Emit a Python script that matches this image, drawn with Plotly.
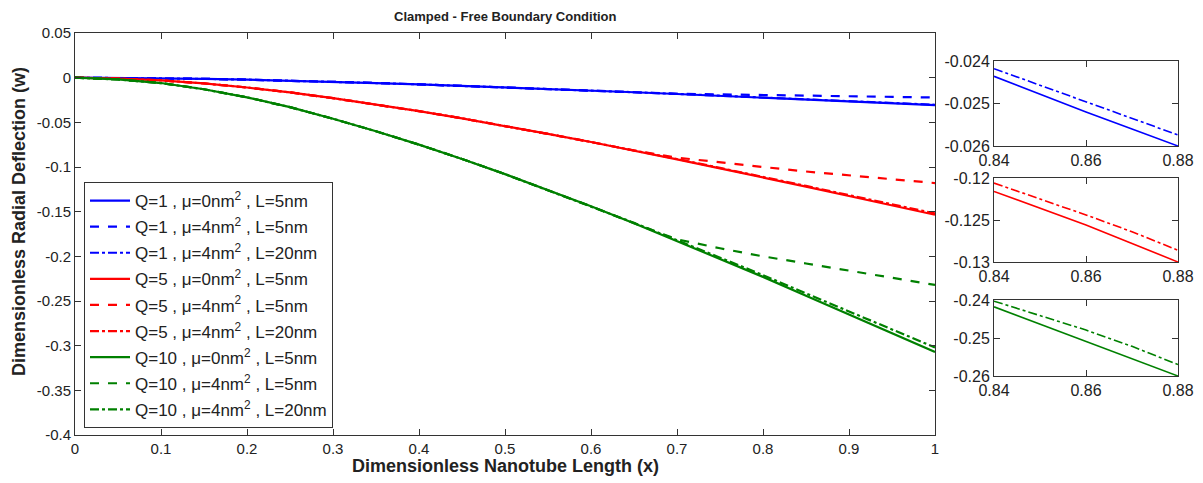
import plotly.graph_objects as go

# ---------------- data ----------------
x_main = [0, 0.05, 0.1, 0.15, 0.2, 0.25, 0.3, 0.35, 0.4, 0.45, 0.5,
          0.55, 0.6, 0.65, 0.7, 0.75, 0.8, 0.85, 0.9, 0.95, 1.0]

q1_mu0_L5 = [0, -0.0002, -0.0006, -0.0013, -0.0022, -0.0033, -0.0046, -0.0060, -0.0075, -0.0091, -0.0108,
             -0.0126, -0.0144, -0.0163, -0.0183, -0.0203, -0.0223, -0.0244, -0.0265, -0.0286, -0.0307]
q1_mu4_L5 = [0, -0.0002, -0.0006, -0.0013, -0.0022, -0.0033, -0.0046, -0.0060, -0.0075, -0.0091, -0.0108,
             -0.0126, -0.0144, -0.0163, -0.0180, -0.0187, -0.0194, -0.0201, -0.0208, -0.0215, -0.0222]
q1_mu4_L20 = [0, -0.0002, -0.0006, -0.0013, -0.0022, -0.0033, -0.0046, -0.0060, -0.0075, -0.0091, -0.0108,
              -0.0126, -0.0144, -0.0163, -0.0182, -0.0202, -0.0222, -0.0242, -0.0263, -0.0283, -0.0303]

q5_mu0_L5 = [0, -0.0010, -0.0030, -0.0065, -0.0110, -0.0165, -0.0230, -0.0300, -0.0375, -0.0455, -0.0540,
             -0.0630, -0.0720, -0.0815, -0.0915, -0.1015, -0.1115, -0.1220, -0.1325, -0.1430, -0.1535]
q5_mu4_L5 = [0, -0.0010, -0.0030, -0.0065, -0.0110, -0.0165, -0.0230, -0.0300, -0.0375, -0.0455, -0.0540,
             -0.0630, -0.0720, -0.0815, -0.0895, -0.0950, -0.1000, -0.1050, -0.1095, -0.1140, -0.1180]
q5_mu4_L20 = [0, -0.0010, -0.0030, -0.0065, -0.0110, -0.0165, -0.0230, -0.0300, -0.0375, -0.0455, -0.0540,
              -0.0630, -0.0720, -0.0813, -0.0910, -0.1010, -0.1107, -0.1212, -0.1315, -0.1418, -0.1520]

q10_mu0_L5 = [0, -0.002, -0.006, -0.013, -0.022, -0.033, -0.046, -0.060, -0.075, -0.091, -0.108,
              -0.126, -0.144, -0.163, -0.183, -0.203, -0.223, -0.244, -0.265, -0.286, -0.307]
q10_mu4_L5 = [0, -0.002, -0.006, -0.013, -0.022, -0.033, -0.046, -0.060, -0.075, -0.091, -0.108,
              -0.126, -0.144, -0.163, -0.181, -0.191, -0.200, -0.208, -0.216, -0.224, -0.232]
q10_mu4_L20 = [0, -0.002, -0.006, -0.013, -0.022, -0.033, -0.046, -0.060, -0.075, -0.091, -0.108,
               -0.126, -0.144, -0.1625, -0.182, -0.2015, -0.221, -0.2415, -0.2615, -0.282, -0.302]

# zoomed insets (x = 0.84 ... 0.88)
x_inset = [0.84, 0.85, 0.86, 0.87, 0.88]
ins_q1_mu0 = [-0.02436, -0.02478, -0.02520, -0.02560, -0.02600]
ins_q1_L20 = [-0.02418, -0.02457, -0.02496, -0.02535, -0.02574]
ins_q5_mu0 = [-0.1216, -0.1236, -0.1256, -0.1278, -0.1300]
ins_q5_L20 = [-0.1206, -0.1225, -0.1244, -0.1264, -0.1286]
ins_q10_mu0 = [-0.2418, -0.2464, -0.2510, -0.2554, -0.2600]
ins_q10_L20 = [-0.2403, -0.2441, -0.2479, -0.2522, -0.2570]

legend_names = [
    "Q=1 , μ=0nm<sup>2</sup> , L=5nm",
    "Q=1 , μ=4nm<sup>2</sup> , L=5nm",
    "Q=1 , μ=4nm<sup>2</sup> , L=20nm",
    "Q=5 , μ=0nm<sup>2</sup> , L=5nm",
    "Q=5 , μ=4nm<sup>2</sup> , L=5nm",
    "Q=5 , μ=4nm<sup>2</sup> , L=20nm",
    "Q=10 , μ=0nm<sup>2</sup> , L=5nm",
    "Q=10 , μ=4nm<sup>2</sup> , L=5nm",
    "Q=10 , μ=4nm<sup>2</sup> , L=20nm",
]

x_tickvals = [0, 0.1, 0.2, 0.3, 0.4, 0.5, 0.6, 0.7, 0.8, 0.9, 1.0]
x_ticktext = ["0", "0.1", "0.2", "0.3", "0.4", "0.5", "0.6", "0.7", "0.8", "0.9", "1"]
y_tickvals = [0.05, 0, -0.05, -0.1, -0.15, -0.2, -0.25, -0.3, -0.35, -0.4]
y_ticktext = ["0.05", "0", "-0.05", "-0.1", "-0.15", "-0.2", "-0.25", "-0.3", "-0.35", "-0.4"]

inset_x_ticks = [0.84, 0.86, 0.88]
inset_x_text = ["0.84", "0.86", "0.88"]
inset1_y_ticks = [-0.024, -0.025, -0.026]
inset1_y_text = ["-0.024", "-0.025", "-0.026"]
inset2_y_ticks = [-0.12, -0.125, -0.13]
inset2_y_text = ["-0.12", "-0.125", "-0.13"]
inset3_y_ticks = [-0.24, -0.25, -0.26]
inset3_y_text = ["-0.24", "-0.25", "-0.26"]

# ---------------- styling ----------------
BLUE = "rgb(0,0,255)"
RED = "rgb(255,0,0)"
GREEN = "rgb(0,128,0)"
FONT = "Liberation Sans, Arial, sans-serif"
AX = "#333333"
TXT = "#222222"

OFF = 8                      # default page (body) margin of the html page
W, H = 1203 - OFF, 483 - OFF

fig = go.Figure()

main_series = [
    (q1_mu0_L5, BLUE, "solid"), (q1_mu4_L5, BLUE, "dash"), (q1_mu4_L20, BLUE, "dashdot"),
    (q5_mu0_L5, RED, "solid"), (q5_mu4_L5, RED, "dash"), (q5_mu4_L20, RED, "dashdot"),
    (q10_mu0_L5, GREEN, "solid"), (q10_mu4_L5, GREEN, "dash"), (q10_mu4_L20, GREEN, "dashdot"),
]
for i, (ys, col, dash) in enumerate(main_series):
    fig.add_trace(go.Scatter(
        x=x_main, y=ys, mode="lines", name=legend_names[i],
        legendgroup="g%d" % i,
        line=dict(color=col, width=2.2, dash=dash),
        xaxis="x", yaxis="y"))

inset_series = [
    (ins_q1_mu0, BLUE, "solid", "2"), (ins_q1_L20, BLUE, "dashdot", "2"),
    (ins_q5_mu0, RED, "solid", "3"), (ins_q5_L20, RED, "dashdot", "3"),
    (ins_q10_mu0, GREEN, "solid", "4"), (ins_q10_L20, GREEN, "dashdot", "4"),
]
for ys, col, dash, ax in inset_series:
    fig.add_trace(go.Scatter(
        x=x_inset, y=ys, mode="lines", showlegend=False,
        line=dict(color=col, width=1.6, dash=dash),
        xaxis="x" + ax, yaxis="y" + ax))


def px_x(p):
    return (p - OFF) / W


def px_y(p):
    return 1 - (p - OFF) / H


main_xd = [px_x(75), px_x(935)]
main_yd = [px_y(435), px_y(33)]
ins_xd = [px_x(994), px_x(1178)]
ins_yd = [[px_y(146), px_y(61)], [px_y(262), px_y(178)], [px_y(376), px_y(300)]]

common_axis = dict(showline=True, linecolor=AX, linewidth=1, mirror="ticks",
                   ticks="inside", ticklen=6, tickcolor=AX, showgrid=False,
                   zeroline=False, automargin=False)

layout = dict(
    width=W, height=H,
    margin=dict(l=0, r=0, t=0, b=0, autoexpand=False),
    paper_bgcolor="white", plot_bgcolor="white",
    font=dict(family=FONT, color=TXT),
    showlegend=True,
    legend=dict(x=px_x(84), y=px_y(182), xanchor="left", yanchor="top",
                bgcolor="white", bordercolor=AX, borderwidth=1,
                font=dict(family=FONT, size=17, color=TXT),
                tracegroupgap=1, itemwidth=40),
    xaxis=dict(domain=main_xd, range=[0, 1], tickvals=x_tickvals, ticktext=x_ticktext,
               tickfont=dict(size=15), anchor="y", **common_axis),
    yaxis=dict(domain=main_yd, range=[-0.4, 0.05], tickvals=y_tickvals, ticktext=y_ticktext,
               tickfont=dict(size=15), anchor="x", **common_axis),
)

inset_y = [(inset1_y_ticks, inset1_y_text, [-0.026, -0.024]),
           (inset2_y_ticks, inset2_y_text, [-0.13, -0.12]),
           (inset3_y_ticks, inset3_y_text, [-0.26, -0.24])]
for k in range(3):
    n = str(k + 2)
    tv, tt, rng = inset_y[k]
    layout["xaxis" + n] = dict(domain=ins_xd, range=[0.84, 0.88], tickvals=inset_x_ticks,
                               ticktext=inset_x_text, tickfont=dict(size=16),
                               anchor="y" + n, **common_axis)
    layout["yaxis" + n] = dict(domain=ins_yd[k], range=rng, tickvals=tv, ticktext=tt,
                               tickfont=dict(size=16), anchor="x" + n, **common_axis)

layout["annotations"] = [
    dict(text="<b>Clamped - Free Boundary Condition</b>", x=px_x(505), y=1.0,
         xref="paper", yref="paper", showarrow=False, xanchor="center", yanchor="top",
         borderpad=0, font=dict(family=FONT, size=13, color=TXT)),
    dict(text="<b>Dimensionless Nanotube Length (x)</b>", x=px_x(505), y=px_y(466),
         xref="paper", yref="paper", showarrow=False, xanchor="center", yanchor="middle",
         font=dict(family=FONT, size=18, color=TXT)),
    dict(text="<b>Dimensionless Radial Deflection (w)</b>", x=px_x(19), y=px_y(222),
         xref="paper", yref="paper", showarrow=False, xanchor="center", yanchor="middle",
         textangle=-90, font=dict(family=FONT, size=18, color=TXT)),
]

fig.update_layout(**layout)
fig.write_html("out.html")
